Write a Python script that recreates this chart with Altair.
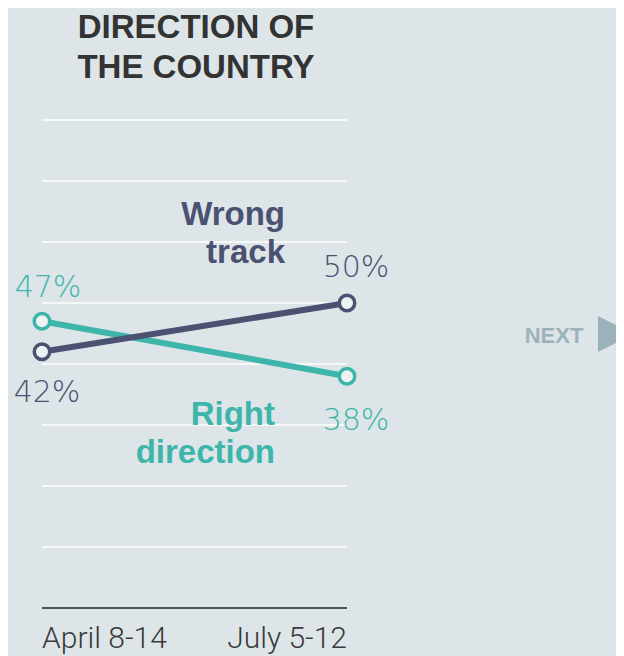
import altair as alt
import pandas as pd

# ---- data ----
periods = ["April 8-14", "July 5-12"]
right_direction = [47, 38]
wrong_track = [42, 50]
grid_values = [10, 20, 30, 40, 50, 60, 70, 80]
baseline_value = [0]
series_names = ["Right direction", "Wrong track"]
title_text = "DIRECTION OF\nTHE COUNTRY"
next_text = "NEXT"

BG = "#dde5e8"
TEAL = "#3db5aa"
NAVY = "#4a5171"
FILL = "#eef2f3"
GREYBLUE = "#9cb2ba"
NUM_FONT = "DejaVu Sans"
LIGHT_FONT = "Roboto"
BOLD_FONT = "Liberation Sans"

df = pd.DataFrame({
    "period": periods * 2,
    "value": right_direction + wrong_track,
    "series": [series_names[0]] * 2 + [series_names[1]] * 2,
})
df["label"] = df["value"].astype(str) + "%"

grid_df = pd.DataFrame({"v": grid_values, "start": periods[0], "end": periods[1]})
base_df = pd.DataFrame({"v": baseline_value, "start": periods[0], "end": periods[1]})

x_scale = alt.Scale(type="point", domain=periods, range=[34, 339], padding=0)
y_scale = alt.Scale(domain=[0, 80], range=[600, 112], nice=False, zero=False)

X = lambda f: alt.X(f, scale=x_scale, axis=None)
Y = lambda f: alt.Y(f, scale=y_scale, axis=None)

grid = alt.Chart(grid_df).mark_rule(color="white", strokeWidth=1.5).encode(
    x=X("start:O"), x2="end", y=Y("v:Q"))
baseline = alt.Chart(base_df).mark_rule(color="#4d5356", strokeWidth=2).encode(
    x=X("start:O"), x2="end", y=Y("v:Q"))

def series_layers(name, color):
    d = alt.Chart(df).transform_filter(alt.datum.series == name)
    line = d.mark_line(color=color, strokeWidth=6).encode(x=X("period:O"), y=Y("value:Q"))
    pts = d.mark_point(shape="circle", fill=FILL, fillOpacity=1, stroke=color,
                       strokeWidth=3.5, size=240, opacity=1).encode(x=X("period:O"), y=Y("value:Q"))
    return line, pts

teal_line, teal_pts = series_layers(series_names[0], TEAL)
navy_line, navy_pts = series_layers(series_names[1], NAVY)

def value_label(name, period, color, dx, dy):
    return alt.Chart(df).transform_filter(
        (alt.datum.series == name) & (alt.datum.period == period)
    ).mark_text(font=NUM_FONT, fontWeight=300, fontSize=30, color=color,
                align="center", baseline="alphabetic", dx=dx, dy=dy).encode(
        x=X("period:O"), y=Y("value:Q"), text="label:N")

lab_47 = value_label(series_names[0], periods[0], TEAL, 6, -24)
lab_42 = value_label(series_names[1], periods[0], NAVY, 5, 50)
lab_50 = value_label(series_names[1], periods[1], NAVY, 9, -26)
lab_38 = value_label(series_names[0], periods[1], TEAL, 9, 54)

wrong_lbl = alt.Chart(pd.DataFrame({"t": ["Wrong\ntrack"]})).mark_text(
    font=BOLD_FONT, fontWeight="bold", fontSize=33, color=NAVY, align="right",
    baseline="alphabetic", lineBreak="\n", lineHeight=38).encode(
    x=alt.value(277), y=alt.value(217), text="t:N")
right_lbl = alt.Chart(pd.DataFrame({"t": ["Right\ndirection"]})).mark_text(
    font=BOLD_FONT, fontWeight="bold", fontSize=33, color=TEAL, align="right",
    baseline="alphabetic", lineBreak="\n", lineHeight=38).encode(
    x=alt.value(267), y=alt.value(417), text="t:N")

title = alt.Chart(pd.DataFrame({"t": [title_text]})).mark_text(
    font=BOLD_FONT, fontWeight="bold", fontSize=33, color="#333333", align="center",
    baseline="alphabetic", lineBreak="\n", lineHeight=40).encode(
    x=alt.value(188), y=alt.value(30), text="t:N")

xl_df = pd.DataFrame({"period": periods})
xlab_left = alt.Chart(xl_df).transform_filter(alt.datum.period == periods[0]).mark_text(
    font=LIGHT_FONT, fontWeight=300, fontSize=30, color="#3a3a3a", align="left",
    baseline="alphabetic").encode(x=X("period:O"), y=alt.value(640), text="period:N")
xlab_right = alt.Chart(xl_df).transform_filter(alt.datum.period == periods[1]).mark_text(
    font=LIGHT_FONT, fontWeight=300, fontSize=30, color="#3a3a3a", align="right",
    baseline="alphabetic").encode(x=X("period:O"), y=alt.value(640), text="period:N")

next_lbl = alt.Chart(pd.DataFrame({"t": [next_text]})).mark_text(
    font=BOLD_FONT, fontWeight="bold", fontSize=22, color=GREYBLUE, align="center",
    baseline="alphabetic").encode(x=alt.value(546), y=alt.value(335), text="t:N")
next_arrow = alt.Chart(pd.DataFrame({"t": [next_text]})).mark_point(
    shape="M-1,-1L1,0L-1,1Z", size=1296, filled=True, color=GREYBLUE, opacity=1).encode(
    x=alt.value(608), y=alt.value(326))

chart = alt.layer(
    grid, baseline, teal_line, navy_line, teal_pts, navy_pts,
    lab_47, lab_42, lab_50, lab_38, wrong_lbl, right_lbl, title,
    xlab_left, xlab_right, next_lbl, next_arrow,
).properties(
    width=608, height=648, padding=0,
    autosize=alt.AutoSizeParams(type="none"), background=BG,
).configure_view(stroke=None)

chart.save("out.html", embed_options={"renderer": "svg", "actions": False})
